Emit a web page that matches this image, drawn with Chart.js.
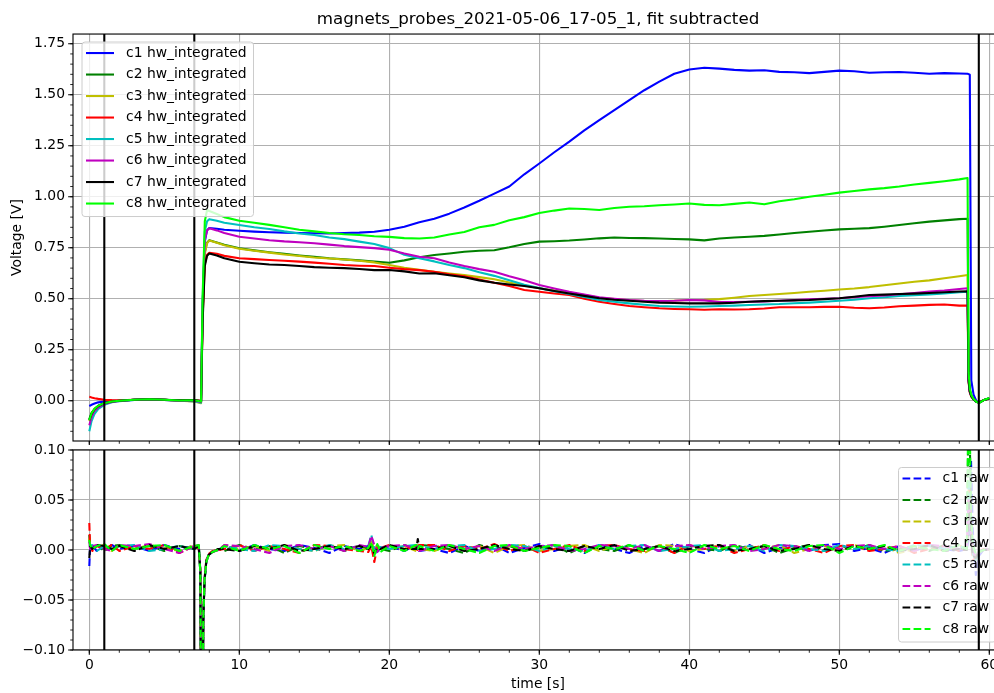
<!DOCTYPE html>
<html>
<head>
<meta charset="utf-8">
<title>magnets_probes_2021-05-06_17-05_1</title>
<script src="https://cdn.jsdelivr.net/npm/chart.js@4.4.1/dist/chart.umd.min.js"></script>
<style>
  html, body { margin: 0; padding: 0; background: #fff; }
  #wrap { position: relative; width: 994px; height: 693px; overflow: hidden; }
  #wrap canvas { position: absolute; left: 0; }
  #integratedChart { top: 0; }
  #rawChart { top: 440px; }
</style>
</head>
<body>
<div id="wrap">
  <canvas id="integratedChart" width="1010" height="445"></canvas>
  <canvas id="rawChart" width="1010" height="253"></canvas>
</div>
<script>
// ---- probe data ------------------------------------------------------------

const channels = ['c1', 'c2', 'c3', 'c4', 'c5', 'c6', 'c7', 'c8'];
const channelColors = ['#0000ff', '#008000', '#bfbf00', '#ff0000', '#00bfbf', '#bf00bf', '#000000', '#00ff00'];

// trigger / shot markers [s]
const eventTimes = [1, 7, 59.3];

// axis ranges and tick steps
const timeRange = [-1.087, 60.913];
const voltRange = [-0.1975, 1.7975];
const rawRange = [-0.1, 0.1];
const timeStep = 10, timeMinor = 2;
const voltStep = 0.25, voltMinor = 0.05;
const rawStep = 0.05, rawMinor = 0.01;

// time base of the integrated signals [s]
const times = [
  0, 0.15, 0.35, 0.6, 1, 1.5, 2, 3, 4, 5, 6, 7,
  7.45, 7.55, 7.7, 7.85, 8, 8.5, 9,
  10, 11, 12, 13, 14, 15, 16, 17, 18, 19,
  20, 21, 22, 23, 24, 25, 26, 27, 28, 29,
  30, 31, 32, 33, 34, 35, 36, 37, 38, 39,
  40, 41, 42, 43, 44, 45, 46, 47, 48, 49,
  50, 51, 52, 53, 54, 55, 56, 57, 58,
  58.55, 58.62, 58.7, 58.8, 58.95, 59.15, 59.35, 59.6, 60
];

// hw_integrated, fit subtracted [V]
const c1Integrated = [
  -0.026, -0.02, -0.014, -0.008, -0.004, -0.001, 0.0, 0.004, 0.006, 0.004, 0.0, -0.002,
  -0.004, 0.45, 0.78, 0.835, 0.847, 0.843, 0.838,
  0.833, 0.829, 0.826, 0.824, 0.822, 0.821, 0.82, 0.822, 0.824, 0.828,
  0.838, 0.853, 0.875, 0.892, 0.917, 0.947, 0.98, 1.015, 1.05, 1.11,
  1.163, 1.218, 1.27, 1.325, 1.376, 1.425, 1.474, 1.522, 1.564, 1.603,
  1.624, 1.632, 1.628, 1.622, 1.618, 1.62, 1.612, 1.61, 1.606, 1.612,
  1.618, 1.615, 1.608, 1.61, 1.611, 1.608, 1.603, 1.606, 1.604,
  1.603, 1.601, 1.598, 0.1, 0.03, -0.004, -0.008, 0.002, 0.012
];
const c2Integrated = [
  -0.09, -0.06, -0.04, -0.025, -0.012, -0.004, 0.0, 0.005, 0.007, 0.005, 0.001, 0.001,
  -0.006, 0.42, 0.73, 0.775, 0.787, 0.776, 0.765,
  0.747, 0.737, 0.728, 0.72, 0.712, 0.705, 0.698, 0.693, 0.688, 0.682,
  0.676, 0.688, 0.703, 0.714, 0.722, 0.73, 0.735, 0.738, 0.752, 0.768,
  0.78, 0.782, 0.785, 0.79, 0.796, 0.8, 0.798, 0.797, 0.795, 0.793,
  0.791, 0.786, 0.795, 0.8, 0.804, 0.808, 0.815, 0.822, 0.828, 0.834,
  0.84, 0.843, 0.846, 0.853, 0.861, 0.87, 0.878, 0.884, 0.89,
  0.892, 0.13, 0.055, 0.026, 0.008, -0.006, -0.009, 0.002, 0.012
];
const c3Integrated = [
  -0.1, -0.07, -0.045, -0.028, -0.014, -0.005, 0.0, 0.005, 0.006, 0.004, 0.0, -0.004,
  -0.012, 0.41, 0.72, 0.772, 0.785, 0.774, 0.762,
  0.745, 0.735, 0.726, 0.717, 0.709, 0.702, 0.697, 0.692, 0.686, 0.678,
  0.665, 0.652, 0.642, 0.632, 0.624, 0.616, 0.606, 0.595, 0.58, 0.565,
  0.551, 0.54, 0.528, 0.518, 0.505, 0.498, 0.492, 0.488, 0.487, 0.49,
  0.494, 0.495, 0.498, 0.505, 0.513, 0.518, 0.523, 0.528, 0.534, 0.539,
  0.545, 0.55, 0.557, 0.566, 0.575, 0.583, 0.59, 0.6, 0.61,
  0.616, 0.1, 0.045, 0.022, 0.006, -0.006, -0.008, 0.002, 0.011
];
const c4Integrated = [
  0.02, 0.016, 0.012, 0.009, 0.005, 0.003, 0.002, 0.005, 0.006, 0.005, 0.0, 0.002,
  0.0, 0.4, 0.67, 0.715, 0.725, 0.72, 0.71,
  0.698, 0.694, 0.69, 0.686, 0.682, 0.677, 0.671, 0.665, 0.662, 0.66,
  0.652, 0.645, 0.64, 0.632, 0.62, 0.61, 0.594, 0.578, 0.562, 0.543,
  0.534, 0.526, 0.518, 0.5, 0.485, 0.474, 0.464, 0.458, 0.453, 0.45,
  0.448, 0.446, 0.448, 0.447, 0.448, 0.452, 0.458, 0.458, 0.458, 0.46,
  0.461, 0.456, 0.453, 0.457, 0.463, 0.466, 0.47, 0.472, 0.466,
  0.466, 0.09, 0.04, 0.02, 0.006, -0.005, -0.007, 0.002, 0.011
];
const c5Integrated = [
  -0.15, -0.1, -0.065, -0.04, -0.02, -0.008, -0.002, 0.004, 0.006, 0.004, 0.0, -0.002,
  -0.01, 0.48, 0.83, 0.88, 0.89, 0.882, 0.872,
  0.861, 0.85, 0.842, 0.83, 0.82, 0.812, 0.8, 0.792, 0.78, 0.768,
  0.748, 0.715, 0.698, 0.683, 0.665, 0.65, 0.63, 0.612, 0.59, 0.568,
  0.552, 0.537, 0.523, 0.508, 0.494, 0.485, 0.477, 0.47, 0.464, 0.462,
  0.461, 0.462, 0.464, 0.466, 0.469, 0.472, 0.474, 0.478, 0.481, 0.485,
  0.49, 0.495, 0.502, 0.507, 0.513, 0.517, 0.521, 0.526, 0.532,
  0.534, 0.1, 0.045, 0.022, 0.006, -0.006, -0.008, 0.002, 0.012
];
const c6Integrated = [
  -0.12, -0.08, -0.05, -0.032, -0.016, -0.006, -0.001, 0.005, 0.006, 0.005, 0.0, 0.0,
  -0.006, 0.45, 0.79, 0.835, 0.845, 0.835, 0.822,
  0.804, 0.795, 0.787, 0.781, 0.777, 0.772, 0.765, 0.758, 0.753, 0.748,
  0.74, 0.722, 0.706, 0.698, 0.678, 0.66, 0.645, 0.632, 0.61, 0.59,
  0.567, 0.55, 0.534, 0.52, 0.507, 0.5, 0.494, 0.49, 0.489, 0.49,
  0.494, 0.492, 0.484, 0.484, 0.485, 0.487, 0.49, 0.493, 0.497, 0.5,
  0.502, 0.508, 0.512, 0.516, 0.522, 0.528, 0.535, 0.54, 0.548,
  0.551, 0.1, 0.045, 0.022, 0.006, -0.006, -0.008, 0.002, 0.011
];
const c7Integrated = [
  -0.095, -0.065, -0.042, -0.026, -0.012, -0.004, 0.0, 0.005, 0.007, 0.005, 0.002, 0.003,
  -0.002, 0.38, 0.66, 0.71, 0.722, 0.712, 0.698,
  0.681, 0.674, 0.668, 0.665, 0.66, 0.655, 0.652, 0.65, 0.646, 0.64,
  0.641, 0.634, 0.624, 0.625, 0.615, 0.605, 0.59, 0.578, 0.57, 0.562,
  0.551, 0.538, 0.526, 0.514, 0.502, 0.495, 0.49, 0.485, 0.481, 0.479,
  0.477, 0.478, 0.477, 0.48, 0.485, 0.488, 0.49, 0.492, 0.494, 0.498,
  0.502, 0.51, 0.518, 0.52, 0.523, 0.525, 0.528, 0.532, 0.535,
  0.536, 0.1, 0.045, 0.022, 0.006, -0.006, -0.008, 0.002, 0.011
];
const c8Integrated = [
  -0.095, -0.062, -0.04, -0.025, -0.012, -0.004, 0.0, 0.005, 0.007, 0.005, 0.001, 0.002,
  -0.004, 0.5, 0.88, 0.935, 0.93, 0.915, 0.9,
  0.882, 0.872, 0.862, 0.85, 0.838, 0.83, 0.822, 0.816, 0.812, 0.806,
  0.803, 0.797, 0.795, 0.8, 0.815, 0.827, 0.85, 0.862, 0.885, 0.9,
  0.92, 0.932, 0.942, 0.94, 0.935, 0.945, 0.951, 0.953, 0.958, 0.962,
  0.967, 0.96, 0.958, 0.965, 0.972, 0.963, 0.978, 0.988, 1.0, 1.01,
  1.02, 1.028, 1.036, 1.042, 1.05, 1.06, 1.068, 1.076, 1.085,
  1.092, 0.14, 0.06, 0.028, 0.008, -0.006, -0.01, 0.002, 0.013
];

// time base of the raw probe signals [s]
const rawTimes = [
  0, 0.05, 0.2, 0.5, 1, 1.5, 2, 3, 4, 5, 6, 7, 7.3,
  7.4, 7.5, 7.6, 7.68, 7.8, 7.95, 8.2, 8.6,
  9, 10, 11, 12, 13, 14, 15, 16, 17, 18,
  18.6, 18.8, 19, 19.2, 19.4,
  20, 21, 21.8, 21.9, 22,
  23, 24, 25, 26, 27, 28,
  29, 30, 31, 32, 33, 34,
  35, 36, 37, 38, 39, 40,
  41, 42, 43, 44, 45, 46,
  47, 48, 49, 50, 51, 52,
  53, 54, 55, 56, 57, 58,
  58.5, 58.62, 58.7, 58.78, 58.9, 59.1, 59.3, 59.6, 60
];

// raw signals [V]
const c1Raw = [
  -0.016, 0.002, 0.005, -0.001, 0.004, 0.005, 0.001, 0.004, -0.001, 0.005, 0.001, 0.004, 0.002,
  -0.02, -0.28, -0.07, -0.03, -0.011, -0.005, -0.002, 0.0,
  0.004, -0.001, 0.005, 0.001, -0.001, 0.005, 0.002, -0.003, 0.004, 0.001,
  0.004, 0.006, -0.003, 0.005, -0.001,
  0.004, -0.001, 0.005, 0.001, -0.001,
  0.001, -0.003, 0.004, -0.001, 0.005, -0.003,
  0.002, 0.006, -0.001, 0.004, -0.003, 0.005,
  0.001, -0.003, 0.004, -0.001, 0.006, 0.001,
  -0.003, 0.004, -0.001, 0.005, -0.003, 0.002,
  0.004, -0.001, 0.005, 0.006, -0.001, 0.002,
  -0.003, 0.004, -0.001, 0.005, 0.001, -0.001,
  0.001, 0.01, 0.04, 0.09, 0.02, -0.025, -0.006, 0.0, 0.001
];
const c2Raw = [
  0.015, 0.001, 0.004, 0.005, -0.001, 0.004, 0.005, 0.001, 0.004, -0.001, 0.004, 0.001, 0.005,
  -0.022, -0.3, -0.072, -0.031, -0.012, -0.005, -0.002, 0.001,
  -0.001, 0.005, 0.001, 0.004, -0.003, 0.004, 0.001, 0.005, -0.001, 0.004,
  0.001, 0.008, -0.004, 0.004, 0.001,
  -0.001, 0.005, 0.001, 0.004, 0.005,
  0.004, 0.001, -0.003, 0.005, 0.001, 0.004,
  -0.001, 0.002, 0.005, -0.003, 0.004, 0.001,
  -0.001, 0.005, 0.001, 0.004, -0.003, 0.004,
  0.001, -0.001, 0.005, 0.001, 0.004, -0.003,
  0.002, 0.005, -0.001, 0.004, 0.001, 0.005,
  -0.001, 0.001, 0.004, -0.001, 0.005, 0.001,
  0.002, 0.15, 0.11, 0.03, 0.004, -0.006, -0.002, 0.0, 0.001
];
const c3Raw = [
  0.012, 0.005, 0.001, 0.004, 0.005, -0.001, 0.004, 0.001, 0.005, 0.002, -0.001, 0.005, 0.001,
  -0.021, -0.29, -0.071, -0.03, -0.012, -0.006, -0.002, 0.0,
  0.005, 0.001, 0.004, -0.001, 0.005, 0.001, -0.001, 0.004, 0.005, -0.001,
  0.002, 0.011, -0.002, 0.006, 0.001,
  0.001, 0.004, -0.001, 0.005, 0.001,
  -0.001, 0.005, 0.001, 0.004, -0.003, 0.004,
  0.005, -0.001, 0.001, 0.004, 0.005, -0.001,
  0.004, 0.001, -0.003, 0.005, 0.004, -0.001,
  0.001, 0.005, -0.001, 0.004, 0.001, 0.005,
  -0.003, 0.001, 0.004, -0.001, 0.005, 0.001,
  0.004, -0.003, 0.001, 0.004, -0.001, 0.005,
  0.0, 0.06, 0.05, 0.02, 0.0, -0.01, -0.003, 0.0, 0.001
];
const c4Raw = [
  0.027, 0.005, -0.001, 0.004, 0.001, 0.005, -0.001, 0.004, 0.001, 0.005, -0.003, 0.004, 0.001,
  -0.019, -0.27, -0.068, -0.029, -0.01, -0.004, -0.001, 0.0,
  0.001, 0.005, -0.001, 0.004, 0.001, -0.003, 0.005, 0.004, 0.001, -0.001,
  -0.002, 0.004, -0.012, 0.003, 0.002,
  0.005, 0.001, 0.004, -0.001, 0.005,
  0.005, -0.001, 0.004, 0.001, 0.006, -0.001,
  0.004, -0.003, 0.001, 0.005, -0.001, 0.004,
  0.005, 0.001, -0.001, 0.004, -0.003, 0.005,
  0.001, 0.004, -0.003, 0.001, 0.005, -0.001,
  0.004, 0.001, -0.003, 0.004, 0.005, -0.001,
  0.001, 0.004, -0.003, 0.001, 0.004, -0.001,
  0.001, 0.05, 0.06, 0.01, -0.01, -0.008, -0.002, 0.001, 0.0
];
const c5Raw = [
  0.005, 0.004, 0.005, -0.001, 0.004, 0.001, 0.004, 0.005, -0.001, 0.001, 0.004, 0.001, 0.004,
  -0.023, -0.31, -0.073, -0.032, -0.012, -0.005, -0.002, 0.0,
  0.004, 0.001, -0.001, 0.005, 0.004, 0.001, -0.001, 0.005, 0.001, 0.004,
  0.004, 0.015, 0.002, -0.004, 0.003,
  0.001, 0.004, 0.005, 0.001, 0.004,
  0.001, 0.004, 0.005, -0.001, 0.001, 0.005,
  0.004, -0.001, 0.004, 0.001, -0.001, 0.005,
  0.001, 0.004, 0.005, -0.001, 0.001, 0.004,
  0.005, -0.001, 0.001, 0.004, -0.001, 0.005,
  0.004, 0.001, -0.001, 0.005, 0.001, 0.004,
  0.001, -0.001, 0.005, 0.004, 0.001, 0.004,
  0.001, 0.07, 0.04, 0.012, -0.004, -0.01, -0.003, 0.0, 0.001
];
const c6Raw = [
  0.008, 0.001, 0.004, 0.005, 0.001, -0.001, 0.005, 0.004, 0.006, 0.001, -0.003, 0.004, 0.005,
  -0.022, -0.3, -0.07, -0.031, -0.011, -0.005, -0.002, 0.0,
  0.005, 0.004, 0.001, -0.003, 0.004, 0.005, 0.001, 0.004, -0.001, 0.005,
  0.003, 0.014, 0.005, -0.002, 0.002,
  0.004, 0.005, 0.001, 0.004, -0.001,
  0.004, 0.005, 0.001, 0.004, -0.001, 0.005,
  0.001, 0.004, 0.005, -0.001, 0.001, 0.005,
  0.004, 0.001, 0.005, -0.001, 0.004, 0.005,
  0.001, 0.004, 0.005, -0.001, 0.001, 0.005,
  0.004, -0.001, 0.005, 0.001, 0.004, 0.005,
  0.001, 0.004, -0.001, 0.005, 0.004, 0.001,
  0.002, 0.05, 0.04, 0.015, -0.002, -0.007, -0.002, 0.0, 0.001
];
const c7Raw = [
  -0.008, 0.004, 0.001, 0.005, 0.004, 0.001, 0.004, -0.001, 0.005, 0.001, 0.004, 0.001, 0.004,
  -0.021, -0.29, -0.07, -0.03, -0.011, -0.005, -0.002, 0.001,
  0.001, -0.001, 0.004, 0.001, 0.005, -0.001, 0.001, 0.004, 0.001, 0.004,
  0.001, 0.004, -0.003, 0.002, 0.001,
  0.005, 0.001, 0.001, 0.011, 0.001,
  0.001, 0.004, -0.001, 0.001, 0.005, 0.001,
  -0.001, 0.004, 0.001, -0.001, 0.004, 0.001,
  0.005, -0.001, 0.001, 0.004, -0.001, 0.001,
  0.004, 0.005, -0.001, 0.001, 0.004, -0.001,
  0.001, 0.005, 0.001, -0.001, 0.004, 0.001,
  0.004, -0.001, 0.001, 0.005, -0.001, 0.001,
  0.0, 0.04, 0.05, 0.01, -0.006, -0.008, -0.002, 0.0, 0.0
];
const c8Raw = [
  0.01, 0.005, 0.001, 0.004, 0.006, -0.001, 0.005, 0.001, 0.004, 0.005, -0.001, 0.004, 0.005,
  -0.022, -0.3, -0.071, -0.031, -0.012, -0.005, -0.002, 0.0,
  0.004, -0.001, 0.005, 0.001, 0.004, -0.003, 0.005, 0.001, 0.004, -0.001,
  0.002, 0.008, -0.006, 0.006, -0.002,
  0.004, -0.001, 0.005, 0.001, 0.004,
  -0.001, 0.005, 0.001, -0.003, 0.004, 0.005,
  -0.001, 0.002, 0.005, 0.004, -0.003, 0.004,
  0.001, 0.005, -0.001, 0.004, 0.001, -0.003,
  0.005, 0.001, 0.004, -0.001, 0.005, 0.001,
  -0.001, 0.004, 0.005, -0.003, 0.004, 0.001,
  0.005, -0.001, 0.004, 0.001, -0.001, 0.005,
  0.001, 0.16, 0.12, 0.035, 0.005, -0.004, -0.002, 0.0, 0.001
];

const integratedValues = [c1Integrated, c2Integrated, c3Integrated, c4Integrated,
                          c5Integrated, c6Integrated, c7Integrated, c8Integrated];
const rawValues = [c1Raw, c2Raw, c3Raw, c4Raw, c5Raw, c6Raw, c7Raw, c8Raw];

// ---- drawing helpers -------------------------------------------------------

const FONT = "'DejaVu Sans', sans-serif";
const LABEL_SIZE = 13.9;
const PT = 100 / 72;           // points -> pixels at 100 dpi
const LINE_W = 1.5 * PT;

Chart.defaults.font.family = FONT;
Chart.defaults.font.size = LABEL_SIZE;
Chart.defaults.color = '#000';

function stepValues(min, max, step) {
  const out = [];
  for (let k = Math.ceil(min / step - 1e-9); k * step <= max + 1e-9; k++) out.push(k * step);
  return out;
}

function roundedBox(ctx, x, y, w, h, r) {
  ctx.beginPath();
  ctx.moveTo(x + r, y);
  ctx.lineTo(x + w - r, y);
  ctx.arcTo(x + w, y, x + w, y + r, r);
  ctx.lineTo(x + w, y + h - r);
  ctx.arcTo(x + w, y + h, x + w - r, y + h, r);
  ctx.lineTo(x + r, y + h);
  ctx.arcTo(x, y + h, x, y + h - r, r);
  ctx.lineTo(x, y + r);
  ctx.arcTo(x, y, x + r, y, r);
  ctx.closePath();
}

function drawEventLines(chart) {
  const {ctx, chartArea: a, scales: {x}} = chart;
  ctx.save();
  ctx.strokeStyle = '#000';
  ctx.lineWidth = LINE_W;
  ctx.beginPath();
  eventTimes.forEach(t => {
    const px = x.getPixelForValue(t);
    ctx.moveTo(px, a.top);
    ctx.lineTo(px, a.bottom);
  });
  ctx.stroke();
  ctx.restore();
}

function drawFrame(chart, opts) {
  const {ctx, chartArea: a, scales: {x, y}} = chart;
  ctx.save();
  ctx.strokeStyle = '#000';
  ctx.lineWidth = 0.8 * PT;
  ctx.strokeRect(a.left, a.top, a.right - a.left, a.bottom - a.top);

  // major ticks
  ctx.beginPath();
  x.ticks.forEach(t => {
    const px = x.getPixelForValue(t.value);
    ctx.moveTo(px, a.bottom);
    ctx.lineTo(px, a.bottom + 3.5 * PT);
  });
  y.ticks.forEach(t => {
    const py = y.getPixelForValue(t.value);
    ctx.moveTo(a.left, py);
    ctx.lineTo(a.left - 3.5 * PT, py);
  });
  ctx.stroke();

  // minor ticks
  ctx.lineWidth = 0.6 * PT;
  ctx.beginPath();
  stepValues(x.min, x.max, opts.xMinor).forEach(v => {
    const px = x.getPixelForValue(v);
    ctx.moveTo(px, a.bottom);
    ctx.lineTo(px, a.bottom + 2 * PT);
  });
  stepValues(y.min, y.max, opts.yMinor).forEach(v => {
    const py = y.getPixelForValue(v);
    ctx.moveTo(a.left, py);
    ctx.lineTo(a.left - 2 * PT, py);
  });
  ctx.stroke();
  ctx.restore();
}

function drawLegend(chart, corner) {
  const {ctx, chartArea: a} = chart;
  const sets = chart.data.datasets;
  ctx.save();
  ctx.font = LABEL_SIZE + 'px ' + FONT;
  const textW = Math.max(...sets.map(d => ctx.measureText(d.label).width));
  const w = textW + 51;
  const h = 11 + (sets.length - 1) * 21.5 + 13;
  const x0 = corner === 'lower right' ? a.right - 7 - w : a.left + 9;
  const y0 = corner === 'lower right' ? a.bottom - 8 - h : a.top + 8;

  roundedBox(ctx, x0, y0, w, h, 3);
  ctx.fillStyle = 'rgba(255, 255, 255, 0.8)';
  ctx.fill();
  ctx.strokeStyle = '#cccccc';
  ctx.lineWidth = 1;
  ctx.stroke();

  ctx.textBaseline = 'middle';
  sets.forEach((d, i) => {
    const cy = y0 + 11 + i * 21.5;
    ctx.strokeStyle = d.borderColor;
    ctx.lineWidth = LINE_W;
    ctx.setLineDash(d.borderDash || []);
    ctx.beginPath();
    ctx.moveTo(x0 + 4, cy);
    ctx.lineTo(x0 + 32, cy);
    ctx.stroke();
    ctx.setLineDash([]);
    ctx.fillStyle = '#000';
    ctx.fillText(d.label, x0 + 44, cy);
  });
  ctx.restore();
}

// frame, ticks, marker lines and in-axes legend
const panelDecor = {
  id: 'panelDecor',
  afterDatasetsDraw(chart, args, opts) {
    if (!opts.linesOverLegend) drawEventLines(chart);
    drawLegend(chart, opts.legendCorner);
    if (opts.linesOverLegend) drawEventLines(chart);
    drawFrame(chart, opts);
  }
};

const fmtTick = v => v.toFixed(2).replace('-', '\u2212');

function timeAxis(showLabels, height) {
  return {
    type: 'linear',
    min: timeRange[0],
    max: timeRange[1],
    grid: { color: '#b0b0b0', lineWidth: 0.8 * PT, drawTicks: false },
    border: { display: false },
    ticks: {
      display: showLabels, stepSize: timeStep, includeBounds: false,
      autoSkip: false, maxRotation: 0, padding: 7
    },
    title: {
      display: showLabels, text: 'time [s]',
      padding: { top: 0, bottom: 0 }
    },
    afterFit: s => {
      s.height = height;
      s.paddingLeft = 0;
      s.paddingRight = 0;
    }
  };
}

function valueAxis(range, step, title) {
  return {
    min: range[0],
    max: range[1],
    grid: { color: '#b0b0b0', lineWidth: 0.8 * PT, drawTicks: false },
    border: { display: false },
    ticks: { stepSize: step, includeBounds: false, autoSkip: false, padding: 8, callback: fmtTick },
    title: { display: !!title, text: title || '', padding: { top: 9, bottom: 0 } },
    afterFit: s => {
      s.width = 73;
      s.paddingTop = 0;
      s.paddingBottom = 0;
    }
  };
}

function buildSets(ts, values, suffix, dash) {
  return channels.map((ch, i) => ({
    label: ch + ' ' + suffix,
    data: ts.map((t, k) => ({ x: t, y: values[i][k] })),
    borderColor: channelColors[i],
    borderWidth: LINE_W,
    borderDash: dash,
    borderJoinStyle: 'round',
    pointRadius: 0,
    tension: 0,
    order: channels.length - i
  }));
}

// ---- integrated signals (upper panel) -------------------------------------

new Chart(document.getElementById('integratedChart'), {
  type: 'line',
  data: { datasets: buildSets(times, integratedValues, 'hw_integrated', []) },
  options: {
    responsive: false,
    animation: false,
    events: [],
    layout: { padding: { left: 0, right: 7, top: 0, bottom: 0 } },
    scales: {
      x: timeAxis(false, 4),
      y: valueAxis(voltRange, voltStep, 'Voltage [V]')
    },
    plugins: {
      legend: { display: false },
      tooltip: { enabled: false },
      title: {
        display: true,
        text: 'magnets_probes_2021-05-06_17-05_1, fit subtracted',
        fullSize: false,
        color: '#000',
        font: { size: 16.7, weight: 'normal' },
        padding: { top: 10, bottom: 4 }
      },
      panelDecor: { legendCorner: 'upper left', xMinor: timeMinor, yMinor: voltMinor, linesOverLegend: false }
    }
  },
  plugins: [panelDecor]
});

// ---- raw signals (lower panel) --------------------------------------------

new Chart(document.getElementById('rawChart'), {
  type: 'line',
  data: { datasets: buildSets(rawTimes, rawValues, 'raw', [3.7 * LINE_W, 1.6 * LINE_W]) },
  options: {
    responsive: false,
    animation: false,
    events: [],
    layout: { padding: { left: 0, right: 7, top: 10, bottom: 0 } },
    scales: {
      x: timeAxis(true, 43),
      y: valueAxis(rawRange, rawStep, null)
    },
    plugins: {
      legend: { display: false },
      tooltip: { enabled: false },
      panelDecor: { legendCorner: 'lower right', xMinor: timeMinor, yMinor: rawMinor, linesOverLegend: true }
    }
  },
  plugins: [panelDecor]
});
</script>
</body>
</html>
